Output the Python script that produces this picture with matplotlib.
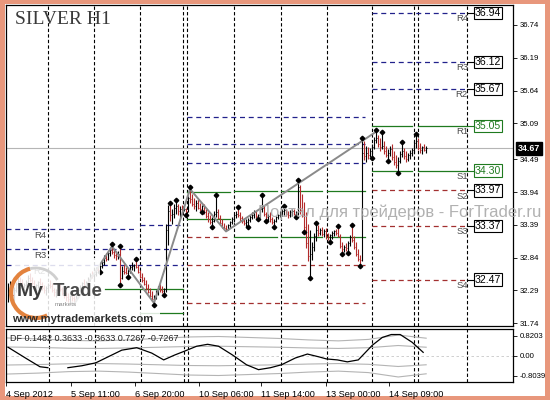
import numpy as np
import matplotlib
matplotlib.use("Agg")
import matplotlib.pyplot as plt
import matplotlib.transforms as mtransforms
from matplotlib.patches import Rectangle, Arc

# ---------------- data ----------------
title_text = "SILVER H1"
watermark = "Портал для трейдеров - ForTrader.ru"

bar_open0 = 32.15
bar_high = [
    32.42, 32.45, 32.40, 32.35, 32.44, 32.50, 32.52, 32.48, 32.42, 32.47,
    32.55, 32.58, 32.52, 32.46, 32.40, 32.45, 32.50, 32.44, 32.38, 32.36,
    32.42, 32.46, 32.41, 32.34, 32.32, 32.38, 32.40, 32.35, 32.30, 32.26,
    32.24, 32.22, 32.26, 32.20,
    32.25, 32.32, 32.38, 32.44, 32.48, 32.45, 32.52, 32.58, 32.62, 32.60,
    32.68, 32.70, 32.72, 32.80, 32.88, 32.92, 32.95, 33.00, 33.03,
    32.98, 32.96, 32.96, 33.01, 32.70, 32.74, 32.68, 32.66, 32.72, 32.76,
    32.74, 32.78, 32.72, 32.64, 32.58, 32.52, 32.46, 32.40, 32.34, 32.28,
    32.22,
    32.30, 32.36, 32.40, 32.36, 32.34, 33.40, 33.72, 33.72, 33.66, 33.74,
    33.77, 33.74, 33.70, 33.72, 33.70, 33.68, 33.88, 33.99,
    33.90, 33.84, 33.80, 33.82, 33.76, 33.72, 33.74, 33.66, 33.60, 33.56,
    33.52, 33.62, 33.86, 33.66, 33.56, 33.48, 33.42, 33.38,
    33.40, 33.46, 33.52, 33.58, 33.62, 33.66, 33.60, 33.54, 33.50, 33.48,
    33.50, 33.56, 33.60, 33.64, 33.62, 33.58, 33.70, 33.86, 33.72, 33.60,
    33.58, 33.60, 33.52, 33.48, 33.54, 33.58, 33.62, 33.66, 33.68, 33.66,
    33.62, 33.64, 33.66, 33.66, 33.62, 34.11,
    34.06, 33.90, 33.78, 33.60, 33.40, 33.30, 33.10, 33.26, 33.39, 33.38,
    33.34, 33.36, 33.32, 33.33, 33.26, 33.24, 33.28, 33.30, 33.32, 33.33,
    33.24, 33.10, 33.06, 33.08, 33.12, 33.22, 33.36, 33.20, 33.10, 32.98,
    32.88, 34.82,
    34.80, 34.72, 34.70, 34.68, 34.74, 34.86, 34.95, 34.90, 34.84, 34.92,
    34.80, 34.72, 34.66, 34.72, 34.74, 34.62, 34.56, 34.52, 34.62, 34.74,
    34.68, 34.62, 34.60, 34.64, 34.68, 34.80, 34.88, 34.84, 34.76, 34.72,
    34.74, 34.72]
bar_low = [
    32.10, 32.22, 32.18, 32.12, 32.26, 32.34, 32.38, 32.33, 32.28, 32.35,
    32.40, 32.44, 32.38, 32.32, 32.26, 32.33, 32.38, 32.30, 32.24, 32.22,
    32.30, 32.34, 32.27, 32.20, 32.18, 32.26, 32.28, 32.22, 32.16, 32.12,
    32.10, 32.08, 32.12, 32.06,
    32.12, 32.18, 32.25, 32.30, 32.36, 32.33, 32.40, 32.45, 32.50, 32.48,
    32.54, 32.60, 32.62, 32.66, 32.72, 32.78, 32.80, 32.86, 32.90,
    32.84, 32.80, 32.82, 32.42, 32.48, 32.56, 32.57, 32.55, 32.58, 32.64,
    32.62, 32.66, 32.58, 32.50, 32.44, 32.38, 32.30, 32.24, 32.18, 32.12,
    32.08,
    32.14, 32.22, 32.26, 32.24, 32.25, 32.27, 33.06, 33.45, 33.40, 33.50,
    33.58, 33.56, 33.52, 33.58, 33.62, 33.59, 33.60, 33.76,
    33.70, 33.66, 33.62, 33.66, 33.62, 33.64, 33.58, 33.50, 33.44, 33.40,
    33.39, 33.44, 33.52, 33.48, 33.40, 33.34, 33.30, 33.28,
    33.30, 33.34, 33.40, 33.44, 33.50, 33.52, 33.46, 33.42, 33.38, 33.36,
    33.38, 33.44, 33.48, 33.50, 33.50, 33.53, 33.53, 33.60, 33.54, 33.49,
    33.46, 33.44, 33.40, 33.39, 33.44, 33.48, 33.52, 33.54, 33.56, 33.54,
    33.50, 33.52, 33.54, 33.56, 33.56, 33.56,
    33.58, 33.52, 33.30, 33.00, 32.78, 32.53, 32.80, 32.96, 33.12, 33.20,
    33.22, 33.20, 33.18, 33.16, 33.13, 33.13, 33.16, 33.20, 33.22, 33.18,
    33.00, 32.93, 32.94, 32.96, 32.96, 33.04, 33.10, 32.98, 32.86, 32.78,
    32.73, 32.78,
    34.48, 34.44, 34.50, 34.52, 34.54, 34.66, 34.76, 34.70, 34.62, 34.66,
    34.58, 34.52, 34.49, 34.54, 34.48, 34.40, 34.34, 34.30, 34.42, 34.52,
    34.50, 34.44, 34.46, 34.50, 34.54, 34.60, 34.68, 34.64, 34.60, 34.58,
    34.62, 34.60]
bar_close = [
    32.30, 32.38, 32.22, 32.30, 32.40, 32.45, 32.41, 32.36, 32.39, 32.44,
    32.50, 32.47, 32.42, 32.35, 32.38, 32.43, 32.40, 32.33, 32.30, 32.34,
    32.39, 32.37, 32.29, 32.26, 32.30, 32.35, 32.31, 32.25, 32.20, 32.18,
    32.14, 32.19, 32.16, 32.14,
    32.22, 32.29, 32.34, 32.41, 32.39, 32.43, 32.49, 32.55, 32.53, 32.57,
    32.64, 32.62, 32.70, 32.77, 32.84, 32.81, 32.92, 32.97, 32.93,
    32.88, 32.86, 32.90, 32.50, 32.62, 32.60, 32.58, 32.62, 32.68, 32.70,
    32.72, 32.68, 32.60, 32.52, 32.46, 32.40, 32.33, 32.27, 32.20, 32.15,
    32.18,
    32.26, 32.33, 32.30, 32.28, 32.31, 33.30, 33.62, 33.55, 33.58, 33.68,
    33.70, 33.62, 33.66, 33.64, 33.66, 33.62, 33.84, 33.82,
    33.74, 33.70, 33.76, 33.68, 33.66, 33.70, 33.60, 33.54, 33.48, 33.44,
    33.46, 33.58, 33.60, 33.50, 33.42, 33.36, 33.34, 33.32,
    33.38, 33.44, 33.48, 33.55, 33.58, 33.56, 33.50, 33.45, 33.42, 33.44,
    33.47, 33.52, 33.56, 33.60, 33.54, 33.56, 33.66, 33.68, 33.58, 33.52,
    33.54, 33.48, 33.44, 33.46, 33.52, 33.56, 33.60, 33.62, 33.64, 33.58,
    33.56, 33.60, 33.62, 33.58, 33.58, 34.02,
    33.64, 33.58, 33.36, 33.08, 32.86, 32.90, 33.02, 33.20, 33.30, 33.26,
    33.30, 33.24, 33.28, 33.20, 33.18, 33.22, 33.26, 33.28, 33.25, 33.20,
    33.04, 32.98, 33.02, 33.00, 33.08, 33.18, 33.14, 33.02, 32.90, 32.82,
    32.80, 34.60,
    34.55, 34.60, 34.56, 34.62, 34.70, 34.82, 34.84, 34.74, 34.70, 34.72,
    34.62, 34.56, 34.60, 34.66, 34.52, 34.44, 34.40, 34.46, 34.58, 34.62,
    34.54, 34.50, 34.56, 34.60, 34.64, 34.76, 34.80, 34.68, 34.64, 34.70,
    34.64, 34.67]

fractal_up_idx = [52, 56, 64, 81, 84, 91, 104, 115, 127, 138, 145, 154, 165,
                  172, 177, 184, 187, 197, 204]
fractal_up_price = [33.03, 33.01, 32.78, 33.72, 33.77, 33.99, 33.86, 33.66,
                    33.86, 33.68, 34.11, 33.39, 33.33, 33.36, 34.82, 34.95,
                    34.92, 34.74, 34.88]
fractal_dn_idx = [46, 56, 60, 73, 78, 89, 97, 102, 120, 125, 129, 133, 144,
                  148, 151, 161, 167, 170, 176, 182, 190, 195]
fractal_dn_price = [32.64, 32.42, 32.55, 32.08, 32.25, 33.59, 33.64, 33.39,
                    33.38, 33.53, 33.49, 33.39, 33.56, 33.30, 32.53, 33.13,
                    32.93, 32.96, 32.73, 34.54, 34.49, 34.30]

zigzag_idx = [33, 52, 73, 91, 109, 184]
zigzag_price = [32.06, 33.03, 32.08, 33.99, 33.28, 34.95]

separator_idx = [20, 43, 66, 87.5, 89.5, 113, 136.5, 159.5, 182, 203, 205, 229.5]

# pivot level segments: start, end, price
res_start = [-1, 66, -1, -1, 89.5, 89.5, 89.5, 182, 182, 182]
res_end = [63.5, 87.5, 87.5, 87.5, 178.5, 178.5, 178.5, 229.5, 229.5, 229.5]
res_price = [33.32, 33.39, 32.99, 32.72, 35.20, 34.75, 34.43, 36.94, 36.12, 35.67]
piv_start = [48.5, 66, 89.5, 89.5, 113, 136.5, 159.5, 113, 136.5, 159.5, 182, 205, 182, 205]
piv_end = [87.5, 87.5, 111, 111, 134.5, 157, 178.5, 134.5, 157, 178.5, 202, 229.5, 202, 229.5]
piv_price = [32.32, 31.91, 33.94, 33.49, 33.96, 33.96, 33.96, 33.19, 33.19, 33.19,
             35.05, 35.05, 34.30, 34.30]
sup_start = [89.5, 89.5, 89.5, 182, 182, 182]
sup_end = [111, 178.5, 178.5, 229.5, 229.5, 229.5]
sup_price = [33.19, 32.72, 32.08, 33.97, 33.37, 32.47]

cur_names = ["R4", "R3", "R2", "R1", "S1", "S2", "S3", "S4"]
cur_values = [36.94, 36.12, 35.67, 35.05, 34.30, 33.97, 33.37, 32.47]
old_names = ["R4", "R3", "R2"]
old_values = [33.32, 32.99, 32.72]

price_ticks = [36.74, 36.19, 35.64, 35.09, 34.49, 33.94, 33.39, 32.84, 32.29, 31.74]
last_price = 34.67

date_labels = ["4 Sep 2012", "5 Sep 11:00", "6 Sep 20:00", "10 Sep 06:00",
               "11 Sep 14:00", "13 Sep 00:00", "14 Sep 09:00"]
date_idx = [-1.5, 31, 63, 95, 126.5, 159, 190.5]

df_label = "DF 0.1482 0.3633 -0.3633 0.7267 -0.7267"
df_idx = [-0.5, 9, 15.5, 19.5, None, 29.5, 36.5, 43.5, 50.5, 56.5, 64, 71.5, 77.5,
          83, 88, 94, 99.5, 105, 112, 119, 125, 131, 136.5, 143.5, 149.5, 155.5,
          159, 164.5, 169.5, 175, 182, 187, 191.5, 196, 202, 207.5]
df_val = [0.36, -0.12, -0.44, -0.48, None, -0.48, -0.40, -0.28, 0.0, 0.24, 0.34,
          0.12, -0.16, 0.04, 0.20, 0.40, 0.48, 0.40, 0.04, -0.36, -0.56, -0.48,
          -0.36, -0.08, 0.08, -0.04, -0.12, -0.16, -0.24, -0.16, 0.44, 0.76,
          0.88, 0.88, 0.56, 0.15]
band_idx = [-1, 15, 30, 45, 60, 75, 90, 105, 120, 135, 150, 165, 180, 195, 209]
band_up2 = [0.74, 0.70, 0.64, 0.62, 0.66, 0.72, 0.78, 0.80, 0.76, 0.72, 0.66, 0.62, 0.68, 0.86, 0.73]
band_up1 = [0.37, 0.35, 0.32, 0.31, 0.33, 0.36, 0.39, 0.40, 0.38, 0.36, 0.33, 0.31, 0.34, 0.43, 0.36]
band_dn1 = [-0.37, -0.35, -0.32, -0.31, -0.33, -0.36, -0.39, -0.40, -0.38, -0.36, -0.33, -0.31, -0.34, -0.43, -0.36]
band_dn2 = [-0.74, -0.70, -0.64, -0.62, -0.66, -0.72, -0.78, -0.80, -0.76, -0.72, -0.66, -0.62, -0.68, -0.86, -0.73]
df_ticks = [0.8203, 0.0, -0.8039]
df_tick_labels = ["0.8203", "0.00", "-0.8039"]

# ---------------- figure ----------------
plt.rcParams['font.family'] = ['Liberation Sans', 'DejaVu Sans']
NARROW = ['Liberation Sans Narrow', 'Liberation Sans', 'DejaVu Sans']
W, H = 550, 400
fig = plt.figure(figsize=(5.5, 4.0), dpi=100, facecolor='#e8977c')


def fx(x):
    return x / W


def fy(y):
    return 1 - y / H


fig.add_artist(Rectangle((fx(5), fy(396)), fx(545) - fx(5), fy(4) - fy(396),
                         transform=fig.transFigure, facecolor='white',
                         edgecolor='none', zorder=-5))

ax = fig.add_axes([fx(6), fy(326), fx(513) - fx(6), fy(5) - fy(326)])
ax2 = fig.add_axes([fx(6), fy(382), fx(513) - fx(6), fy(329) - fy(382)])

XL = (-1, 252.5)
RED = '#b22a2a'
NAVY = '#22228c'
GREEN = '#1f7a1f'
SUPC = '#a33030'

# ---- main chart ----
ax.set_xlim(*XL)
ax.set_ylim(31.695, 37.075)
for s in separator_idx:
    ax.axvline(s, color='black', lw=0.8, ls=(0, (3, 2)), zorder=1)
    ax2.axvline(s, color='black', lw=0.8, ls=(0, (3, 2)), zorder=1)

ax.axhline(last_price, color='#b5b5b5', lw=0.8, zorder=1)

for a, b, p in zip(res_start, res_end, res_price):
    ax.plot([a, b], [p, p], color=NAVY, lw=0.9, ls=(0, (4, 3)), zorder=2)
for a, b, p in zip(piv_start, piv_end, piv_price):
    ax.plot([a, b], [p, p], color=GREEN, lw=0.9, zorder=2)
for a, b, p in zip(sup_start, sup_end, sup_price):
    ax.plot([a, b], [p, p], color=SUPC, lw=0.9, ls=(0, (4, 3)), zorder=2)

# bars
hi = np.array(bar_high)
lo = np.array(bar_low)
cl = np.array(bar_close)
op = np.concatenate([[bar_open0], cl[:-1]])
idx = np.arange(len(hi))
up = cl >= op
ax.vlines(idx[up], lo[up], hi[up], color='black', lw=0.8, zorder=4)
ax.vlines(idx[~up], lo[~up], hi[~up], color=RED, lw=0.8, zorder=4)
ax.hlines(cl[up], idx[up], idx[up] + 0.6, color='black', lw=0.7, zorder=4)
ax.hlines(cl[~up], idx[~up], idx[~up] + 0.6, color=RED, lw=0.7, zorder=4)

# zigzag
ax.plot(zigzag_idx, zigzag_price, color='#8a8a8a', lw=1.4, zorder=5)

# fractals
tr_up = mtransforms.offset_copy(ax.transData, fig=fig, y=2, units='dots')
tr_dn = mtransforms.offset_copy(ax.transData, fig=fig, y=-2, units='dots')
ax.plot(fractal_up_idx, fractal_up_price, ls='none', marker='D', ms=2.3,
        color='black', transform=tr_up, zorder=6)
ax.plot(fractal_dn_idx, fractal_dn_price, ls='none', marker='D', ms=2.3,
        color='black', transform=tr_dn, zorder=6)

# level labels of current day
for n, v in zip(cur_names, cur_values):
    ax.annotate(n, xy=(230, v), xytext=(0, -1), textcoords='offset points',
                ha='right', va='top', fontsize=6.8, color='#4a4a4a', zorder=7)
    col = GREEN if n in ("R1", "S1") else 'black'
    ax.plot([229.5, 233], [v, v], color=col, lw=0.8, zorder=3)
    ax.text(240, v, f"{v:.2f}", ha='center', va='center', fontsize=7.6,
            color=col, zorder=7,
            bbox=dict(boxstyle='square,pad=0.12', fc='white', ec=col, lw=0.8))
for n, v in zip(old_names, old_values):
    ax.annotate(n, xy=(19, v), xytext=(0, -1.5), textcoords='offset points',
                ha='right', va='top', fontsize=6.8, color='#4a4a4a', zorder=7)

# axis formatting
ax.set_xticks([])
ax.yaxis.tick_right()
ax.set_yticks(price_ticks)
ax.set_yticklabels([f"{v:.2f}" for v in price_ticks], fontsize=5.6, family=NARROW)
ax.tick_params(axis='y', length=3, width=0.6, pad=2)
for sp in ax.spines.values():
    sp.set_linewidth(0.9)

ax.annotate(f"{last_price:.2f}", xy=(1, last_price), xycoords=('axes fraction', 'data'),
            xytext=(3.5, 0), textcoords='offset points', va='center', ha='left',
            color='white', fontsize=6.4, fontweight='bold', annotation_clip=False,
            bbox=dict(boxstyle='square,pad=0.25', fc='black', ec='black'), zorder=8)

# ---- indicator ----
ax2.set_xlim(*XL)
ax2.set_ylim(-1.066, 1.107)
ax2.axhline(0, color='#c8c8c8', lw=0.6, ls=(0, (3, 3)), zorder=1)
for band in (band_up2, band_up1, band_dn1, band_dn2):
    ax2.plot(band_idx, band, color='#b4b4b4', lw=0.8, zorder=2)
dfx = np.array([np.nan if v is None else v for v in df_idx], dtype=float)
dfy = np.array([np.nan if v is None else v for v in df_val], dtype=float)
ax2.plot(dfx, dfy, color='black', lw=0.9, zorder=3)
ax2.text(0.008, 0.83, df_label, transform=ax2.transAxes, fontsize=6.5,
         va='center', ha='left', color='#202020')
ax2.yaxis.tick_right()
ax2.set_yticks(df_ticks)
ax2.set_yticklabels(df_tick_labels, fontsize=5.6, family=NARROW)
ax2.tick_params(axis='y', length=3, width=0.6, pad=2)
ax2.set_xticks(date_idx)
ax2.set_xticklabels(date_labels, ha='left', fontsize=6.6)
ax2.tick_params(axis='x', length=3, width=0.6, pad=3)
for sp in ax2.spines.values():
    sp.set_linewidth(0.9)

# ---- overlays: logo, title, watermark ----
fig.add_artist(Rectangle((fx(14), fy(310)), fx(100) - fx(14), fy(258) - fy(310),
                         transform=fig.transFigure, fc='white', ec='none', alpha=0.85, zorder=2))
fig.add_artist(Rectangle((fx(8), fy(326)), fx(160) - fx(8), fy(310) - fy(326),
                         transform=fig.transFigure, fc='white', ec='none', alpha=0.85, zorder=2))
fig.add_artist(Arc((fx(36), fy(293)), 50 / W, 50 / H, theta1=100, theta2=290,
                   transform=fig.transFigure, color='#e3833e', lw=3.0, zorder=3))
fig.add_artist(Arc((fx(36), fy(293)), 50 / W, 50 / H, theta1=40, theta2=100,
                   transform=fig.transFigure, color='#cfcfcf', lw=2.0, zorder=3))
fig.text(fx(17), fy(292), "My", fontsize=14, fontweight='bold', color='#3c3c3c',
         va='center', ha='left', zorder=4)
fig.text(fx(53), fy(291), "Trade", fontsize=13.5, fontweight='bold', color='#4a4a4a',
         va='center', ha='left', zorder=4)
fig.text(fx(55), fy(305), "markets", fontsize=4.5, color='#888888', va='center',
         ha='left', zorder=4)
fig.text(fx(12), fy(319), "www.mytrademarkets.com", fontsize=8, fontweight='bold',
         color='#2c2c2c', va='center', ha='left', zorder=4)
fig.text(fx(15), fy(19), title_text, family=['Liberation Serif', 'DejaVu Serif'],
         fontsize=14, color='#3a3a3a', va='center', ha='left', zorder=4)
fig.text(fx(258), fy(212), watermark, fontsize=12, color='#a9a9a9', alpha=0.9,
         va='center', ha='left', zorder=10)

fig.savefig("out.png", dpi=100, facecolor=fig.get_facecolor())
